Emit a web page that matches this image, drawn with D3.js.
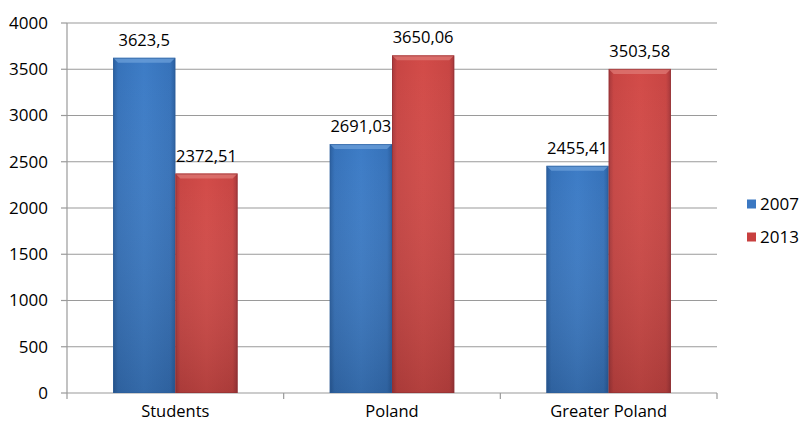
<!DOCTYPE html>
<html><head><meta charset="utf-8">
<script src="https://cdn.jsdelivr.net/npm/d3@7"></script>
<style>body{margin:0;background:#fff;} svg{display:block;}</style>
</head><body>
<svg id="c" width="800" height="423"></svg>
<script>
const categories = ["Students", "Poland", "Greater Poland"];
const seriesNames = ["2007", "2013"];
const values2007 = [3623.5, 2691.03, 2455.41];
const values2013 = [2372.51, 3650.06, 3503.58];
const labels2007 = ["3623,5", "2691,03", "2455,41"];
const labels2013 = ["2372,51", "3650,06", "3503,58"];
const yTicks = [0, 500, 1000, 1500, 2000, 2500, 3000, 3500, 4000];

const svg = d3.select("#c");
const font = "'Open Sans', 'Noto Sans', sans-serif";
const L = 67, R = 717, T = 23, B = 393;
const x = d3.scaleBand().domain(categories).range([L, R]).paddingInner(0).paddingOuter(0);
const xs = d3.scaleBand().domain(seriesNames).range([0, x.bandwidth()]).paddingOuter(0.74).paddingInner(0);
const y = d3.scaleLinear().domain([0, 4000]).range([B, T]);

const defs = svg.append("defs");
function grad(id, light, mid, dark) {
  const g = defs.append("linearGradient").attr("id", id).attr("x1", 0).attr("x2", 1).attr("y1", 0).attr("y2", 0);
  g.append("stop").attr("offset", "0%").attr("stop-color", dark);
  g.append("stop").attr("offset", "8%").attr("stop-color", mid);
  g.append("stop").attr("offset", "50%").attr("stop-color", light);
  g.append("stop").attr("offset", "92%").attr("stop-color", mid);
  g.append("stop").attr("offset", "100%").attr("stop-color", dark);
  const v = defs.append("linearGradient").attr("id", id + "v").attr("x1", 0).attr("x2", 0).attr("y1", 0).attr("y2", 1);
  v.append("stop").attr("offset", "0%").attr("stop-color", "#fff").attr("stop-opacity", 0.0);
  v.append("stop").attr("offset", "100%").attr("stop-color", "#000").attr("stop-opacity", 0.15);
}
grad("gb", "#3d7cc6", "#3672ba", "#2a5e9e");
grad("gr", "#d24b48", "#c84543", "#a5373a");
const fills = {"2007": "url(#gb)", "2013": "url(#gr)"};
const tops = {"2007": "#6fa3dc", "2013": "#e07c78"};
const legendFill = {"2007": "#3b78c2", "2013": "#c8403f"};

svg.append("g").selectAll("line").data(yTicks).join("line")
  .attr("x1", L).attr("x2", R).attr("y1", d => y(d)).attr("y2", d => y(d))
  .attr("stroke", "#9a9a9a").attr("stroke-width", 1.2);

svg.append("line").attr("x1", L).attr("x2", L).attr("y1", T).attr("y2", B).attr("stroke", "#9a9a9a").attr("stroke-width", 1.2);
svg.append("g").selectAll("line").data(yTicks).join("line")
  .attr("x1", L - 6).attr("x2", L).attr("y1", d => y(d)).attr("y2", d => y(d))
  .attr("stroke", "#9a9a9a").attr("stroke-width", 1.2);
const xt = [L, ...categories.map(c => x(c) + x.bandwidth())];
svg.append("g").selectAll("line").data(xt).join("line")
  .attr("x1", d => d).attr("x2", d => d).attr("y1", B).attr("y2", B + 6)
  .attr("stroke", "#9a9a9a").attr("stroke-width", 1.2);

svg.append("g").selectAll("text").data(yTicks).join("text")
  .attr("x", 48).attr("y", d => y(d)).attr("dy", "0.35em").attr("text-anchor", "end")
  .attr("font-family", font).attr("font-size", 17).attr("fill", "#000").text(d => d);

svg.append("g").selectAll("text").data(categories).join("text")
  .attr("x", d => x(d) + x.bandwidth() / 2).attr("y", 417).attr("text-anchor", "middle")
  .attr("font-family", font).attr("font-size", 16.5).attr("fill", "#000").text(d => d);

const data = [];
categories.forEach((c, i) => {
  data.push({c, s: "2007", v: values2007[i], l: labels2007[i]});
  data.push({c, s: "2013", v: values2013[i], l: labels2013[i]});
});

const bars = svg.append("g").selectAll("g").data(data).join("g");
bars.append("rect")
  .attr("x", d => x(d.c) + xs(d.s)).attr("width", xs.bandwidth())
  .attr("y", d => y(d.v)).attr("height", d => B - y(d.v))
  .attr("fill", d => fills[d.s]);
bars.append("rect")
  .attr("x", d => x(d.c) + xs(d.s)).attr("width", xs.bandwidth())
  .attr("y", d => y(d.v)).attr("height", d => B - y(d.v))
  .attr("fill", d => d.s === "2007" ? "url(#gbv)" : "url(#grv)");
bars.append("path")
  .attr("d", d => {
    const x0 = x(d.c) + xs(d.s), x1 = x0 + xs.bandwidth(), t = y(d.v), b = 5;
    return `M${x0},${t}L${x1},${t}L${x1 - b},${t + b}L${x0 + b},${t + b}Z`;
  })
  .attr("fill", d => tops[d.s]).attr("opacity", 0.7);
bars.append("rect")
  .attr("x", d => x(d.c) + xs(d.s) + 0.5).attr("width", xs.bandwidth() - 1)
  .attr("y", d => y(d.v) + 0.5).attr("height", d => B - y(d.v) - 1)
  .attr("fill", "none").attr("stroke", d => d.s === "2007" ? "#2b5d9a" : "#8f3033").attr("stroke-width", 1).attr("opacity", 0.6);

bars.append("text")
  .attr("x", d => x(d.c) + xs(d.s) + xs.bandwidth() / 2).attr("y", d => y(d.v) - 12)
  .attr("text-anchor", "middle").attr("font-family", font).attr("font-size", 16.5).attr("fill", "#000")
  .text(d => d.l);

const lg = svg.append("g").selectAll("g").data(seriesNames).join("g")
  .attr("transform", (d, i) => `translate(747, ${204 + i * 33})`);
lg.append("rect").attr("x", 0).attr("y", -4.5).attr("width", 9).attr("height", 9).attr("fill", d => legendFill[d]);
lg.append("text").attr("x", 13).attr("y", 0).attr("dy", "0.35em").attr("font-family", font).attr("font-size", 17).attr("fill", "#000").text(d => d);
</script>
</body></html>
